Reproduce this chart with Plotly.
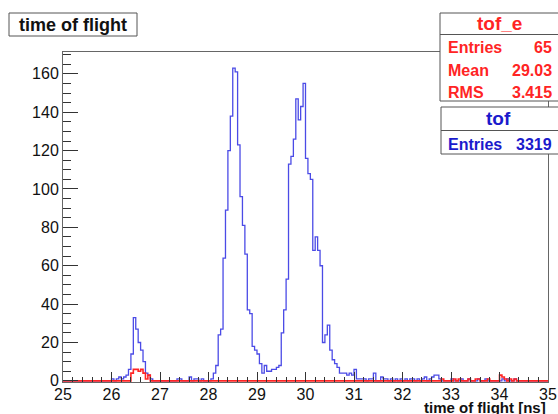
import numpy as np
import plotly.graph_objects as go

# ---------------- data (histograms: 200 bins, 25-35 ns, bin width 0.05 ns) ----------------
x_min, x_max, n_bins = 25.0, 35.0, 200

# "tof" (blue) bin contents, one row per ns
tof_25 = [0, 0, 0, 0, 0, 0, 0, 0, 0, 0, 0, 0, 0, 0, 0, 0, 0, 0, 0, 0]
tof_26 = [1, 0, 1, 2, 1, 2, 3, 6, 14, 33, 27, 20, 16, 10, 4, 3, 1, 0, 0, 0]
tof_27 = [0, 0, 0, 0, 0, 0, 0, 1, 1, 0, 0, 0, 2, 0, 1, 1, 0, 1, 0, 0]
tof_28 = [0, 1, 4, 8, 24, 27, 64, 89, 120, 138, 163, 161, 123, 96, 81, 66, 37, 35, 18, 16]
tof_29 = [14, 9, 4, 8, 5, 5, 6, 6, 7, 8, 25, 37, 53, 113, 117, 126, 147, 136, 143, 155]
tof_30 = [116, 108, 105, 68, 75, 68, 60, 20, 24, 29, 16, 11, 9, 7, 4, 4, 4, 3, 4, 3]
tof_31 = [6, 1, 1, 1, 1, 0, 1, 1, 4, 0, 0, 2, 1, 1, 0, 1, 0, 1, 0, 1]
tof_32 = [0, 1, 0, 1, 1, 0, 1, 0, 1, 2, 0, 1, 2, 3, 3, 1, 0, 0, 0, 0]
tof_33 = [1, 0, 0, 0, 1, 0, 0, 1, 0, 0, 0, 1, 0, 0, 1, 0, 0, 0, 0, 0]
tof_34 = [0, 1, 0, 1, 0, 0, 1, 0, 0, 0, 0, 0, 0, 0, 0, 0, 0, 0, 0, 0]

# "tof_e" (red) bin contents
tofe_25 = [0] * 20
tofe_26 = [0, 0, 0, 0, 0, 0, 0, 0, 4, 6, 6, 5, 6, 4, 1, 3, 0, 0, 0, 0]
tofe_27 = [0] * 20
tofe_28 = [0] * 20
tofe_29 = [0] * 20
tofe_30 = [0] * 20
tofe_31 = [0] * 20
tofe_32 = [0, 0, 0, 0, 0, 0, 0, 0, 0, 0, 0, 0, 0, 0, 0, 0, 1, 0, 0, 0]
tofe_33 = [0, 1, 0, 1, 0, 0, 0, 1, 0, 0, 1, 1, 0, 0, 0, 1, 0, 0, 0, 0]
tofe_34 = [3, 2, 1, 0, 1, 0, 1, 0, 0, 0, 0, 0, 0, 0, 0, 0, 0, 0, 0, 0]

tof_counts = tof_25 + tof_26 + tof_27 + tof_28 + tof_29 + tof_30 + tof_31 + tof_32 + tof_33 + tof_34
tofe_counts = tofe_25 + tofe_26 + tofe_27 + tofe_28 + tofe_29 + tofe_30 + tofe_31 + tofe_32 + tofe_33 + tofe_34

# statistics boxes text
tofe_stats = [("Entries", "65"), ("Mean", "29.03"), ("RMS", "3.415")]
tof_stats = [("Entries", "3319")]

title_text = "time of flight"
x_title = "time of flight [ns]"

# ---------------- figure ----------------
W, H = 558, 414
L, R, T, B = 63, 10, 52, 32
PW, PH = W - L - R, H - T - B


def px(xp):
    return (xp - L) / PW


def py(yp):
    return (H - B - yp) / PH


edges = np.linspace(x_min, x_max, n_bins + 1)

BLUE = "#4b4be6"
RED = "#ff2424"
FONT = "Liberation Sans"

fig = go.Figure()
fig.add_trace(go.Scatter(x=edges, y=list(tof_counts) + [tof_counts[-1]], mode="lines",
                         line=dict(shape="hv", color=BLUE, width=1.3), name="tof",
                         showlegend=False))
fig.add_trace(go.Scatter(x=edges, y=list(tofe_counts) + [tofe_counts[-1]], mode="lines",
                         line=dict(shape="hv", color=RED, width=1.6), name="tof_e",
                         showlegend=False))

tickfont = dict(family=FONT, size=16, color="#111111")
fig.update_xaxes(range=[x_min, x_max], dtick=1, tick0=25, ticks="inside", ticklen=10,
                 tickcolor="#333333", tickwidth=1, showline=True, linecolor="#666666",
                 linewidth=1, mirror=True, showgrid=False, zeroline=False,
                 tickfont=tickfont, ticklabelstandoff=-2, automargin=False,
                 minor=dict(dtick=0.2, ticks="inside", ticklen=5, tickcolor="#333333",
                            showgrid=False))
fig.update_yaxes(range=[-0.6, 171.4], dtick=20, tick0=0, ticks="inside", ticklen=15,
                 tickcolor="#333333", tickwidth=1, showline=True, linecolor="#666666",
                 linewidth=1, mirror=True, showgrid=False, zeroline=False,
                 tickfont=tickfont, automargin=False,
                 minor=dict(dtick=5, ticks="inside", ticklen=8, tickcolor="#333333",
                            showgrid=False))

shapes = []
annotations = []
BORDER = "#555555"


def box(x0, y0, x1, y1):
    shapes.append(dict(type="rect", xref="paper", yref="paper",
                       x0=px(x0), x1=px(x1), y0=py(y1), y1=py(y0),
                       line=dict(color=BORDER, width=1), fillcolor="white", layer="above"))


def hline(x0, x1, y):
    shapes.append(dict(type="line", xref="paper", yref="paper",
                       x0=px(x0), x1=px(x1), y0=py(y), y1=py(y),
                       line=dict(color=BORDER, width=1), layer="above"))


def text(t, x, y, size, color, xanchor="center"):
    annotations.append(dict(text=t, xref="paper", yref="paper", x=px(x), y=py(y),
                            xanchor=xanchor, yanchor="middle", showarrow=False,
                            font=dict(family=FONT, size=size, color=color)))


# title box
box(9, 13, 137, 36)
text("<b>%s</b>" % title_text, 73, 25, 18, "#111111")

# tof_e stats box
box(440, 13, 560, 101)
hline(440, 560, 34.5)
text("<b>tof_e</b>", 499, 24, 19, RED)
for i, (k, v) in enumerate(tofe_stats):
    yy = 48 + i * 22
    text("<b>%s</b>" % k, 446, yy, 16, RED, "left")
    text("<b>%s</b>" % v, 554, yy, 16, RED, "right")

# tof stats box
box(441, 107, 560, 154)
hline(441, 560, 130.5)
text("<b>tof</b>", 498, 119, 19, "#1a1acc")
for i, (k, v) in enumerate(tof_stats):
    yy = 144 + i * 22
    text("<b>%s</b>" % k, 446, yy, 16, "#1a1acc", "left")
    text("<b>%s</b>" % v, 554, yy, 16, "#1a1acc", "right")

# x axis title (right aligned at axis end)
text("<b>%s</b>" % x_title, 548, 407, 15, "#111111", "right")

fig.update_layout(width=W, height=H,
                  margin=dict(l=L, r=R, t=T, b=B, pad=0, autoexpand=False),
                  paper_bgcolor="white", plot_bgcolor="white",
                  shapes=shapes, annotations=annotations, showlegend=False)

fig.write_html("out.html", config={"displayModeBar": False},
               post_script="document.body.style.margin='0';document.body.style.overflow='hidden';")
